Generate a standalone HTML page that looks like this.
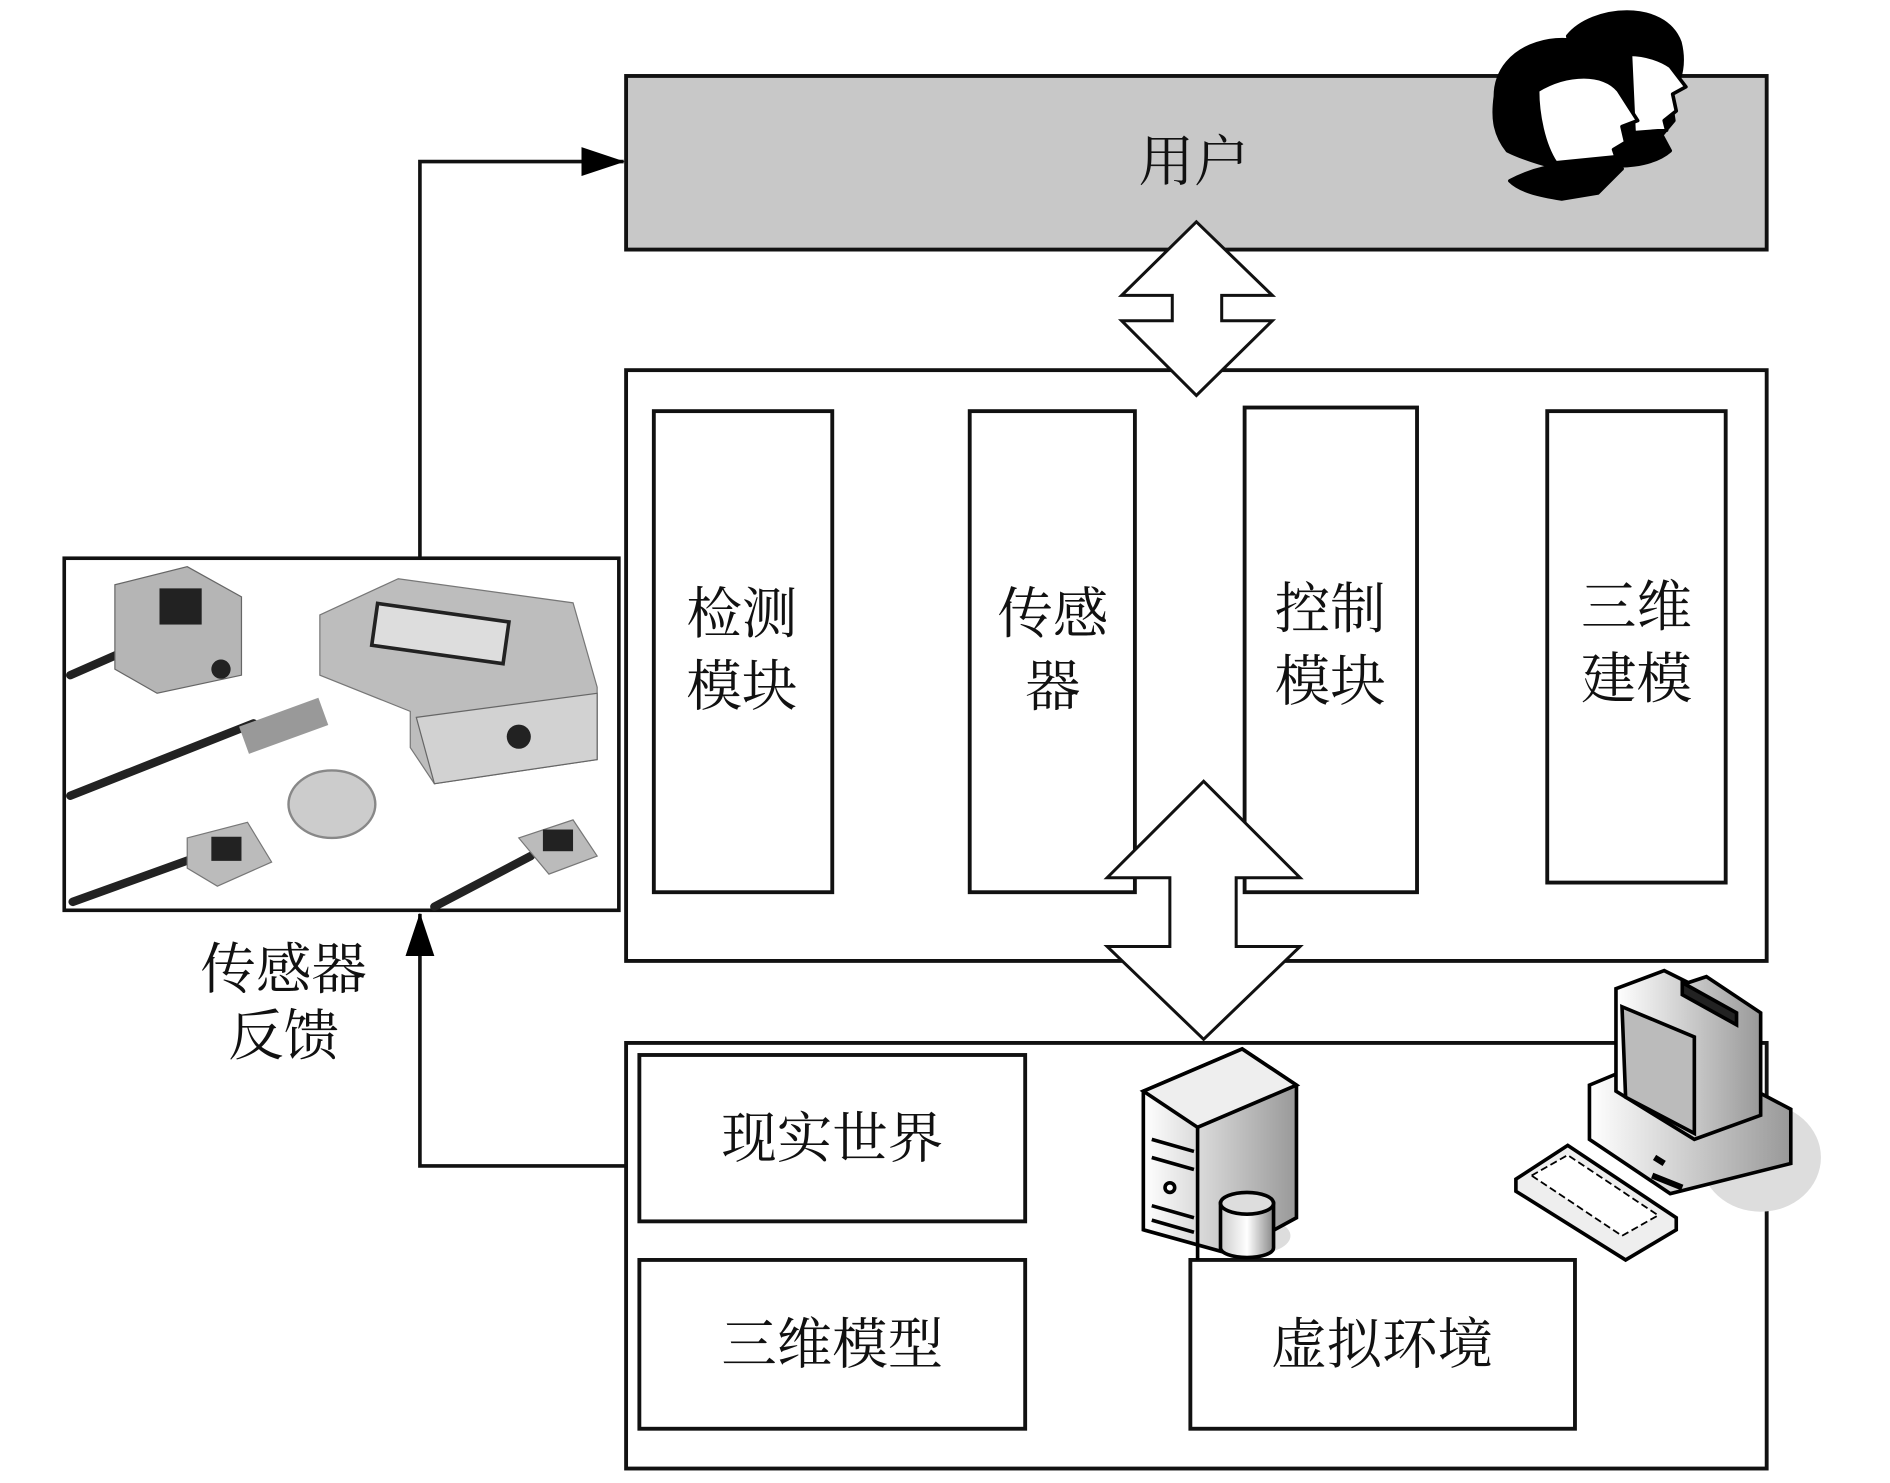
<!DOCTYPE html>
<html><head><meta charset="utf-8"><style>
html,body{margin:0;padding:0;background:#fff;}
svg{display:block}
text{font-family:"Liberation Serif","Noto Serif CJK SC","Noto Sans CJK SC",serif;fill:#111}
</style></head><body>
<svg width="1890" height="1483" viewBox="0 0 1567 1230" xmlns="http://www.w3.org/2000/svg">
<defs>
<marker id="ah" markerWidth="36" markerHeight="24" refX="35" refY="12" orient="auto" markerUnits="userSpaceOnUse">
<path d="M0,0 L36,12 L0,24 z" fill="#000"/></marker>
<linearGradient id="g1" x1="0" x2="1"><stop offset="0" stop-color="#fff"/><stop offset="1" stop-color="#999"/></linearGradient>
<linearGradient id="g2" x1="0" x2="1"><stop offset="0" stop-color="#ccc"/><stop offset="0.5" stop-color="#fff"/><stop offset="1" stop-color="#888"/></linearGradient>
</defs>
<g stroke="#111" stroke-width="3.2" fill="none">
<rect x="519" y="63" width="946" height="144" fill="#c8c8c8"/>
<rect x="519" y="307" width="946" height="490" fill="#fff"/>
<rect x="542" y="341" width="148" height="399"/>
<rect x="804" y="341" width="137" height="399"/>
<rect x="1032" y="338" width="143" height="402"/>
<rect x="1283" y="341" width="148" height="391"/>
<rect x="519" y="865" width="946" height="353" fill="#fff"/>
<rect x="530" y="875" width="320" height="138"/>
<rect x="530" y="1045" width="320" height="140"/>
<rect x="987" y="1045" width="319" height="140"/>
<path d="M992,184 L930,245 L972,245 L972,266 L930,266 L992,328 L1055,266 L1013,266 L1013,245 L1055,245 Z" fill="#fff" stroke-width="2.5"/>
<path d="M998,648 L918,728 L970,728 L970,785 L918,785 L998,862 L1078,785 L1025,785 L1025,728 L1078,728 Z" fill="#fff" stroke-width="2.5"/>
<path d="M348,463 L348,134 L517,134" stroke-width="3" marker-end="url(#ah)"/>
<path d="M519,967 L348,967 L348,758" stroke-width="3" marker-end="url(#ah)"/>
</g>
<!-- photo -->
<g>
<rect x="53" y="463" width="460" height="292" fill="#fff" stroke="#111" stroke-width="3"/>
<g stroke="#222" stroke-width="7" fill="none" stroke-linecap="round">
<path d="M58,560 L115,535"/><path d="M58,660 L210,600"/>
<path d="M60,748 L160,712"/><path d="M360,752 L440,710"/>
</g>
<rect x="200" y="590" width="70" height="24" fill="#999" transform="rotate(-20 235 602)"/>
<path d="M95,485 L155,470 L200,495 L200,560 L130,575 L95,555 Z" fill="#b5b5b5" stroke="#666"/>
<rect x="132" y="488" width="35" height="30" fill="#222"/>
<circle cx="183" cy="555" r="8" fill="#222"/>
<path d="M265,510 L330,480 L475,500 L495,570 L495,630 L360,650 L340,620 L340,590 L265,560 Z" fill="#bdbdbd" stroke="#777"/>
<path d="M345,595 L495,575 L495,630 L360,650 Z" fill="#d2d2d2" stroke="#666"/>
<rect x="310" y="508" width="110" height="35" fill="#ddd" stroke="#222" stroke-width="3" transform="rotate(8 365 525)"/>
<circle cx="430" cy="611" r="10" fill="#222"/>
<ellipse cx="275" cy="667" rx="36" ry="28" fill="#ccc" stroke="#888" stroke-width="2"/>
<path d="M155,695 L205,682 L225,715 L180,735 L155,720 Z" fill="#bbb" stroke="#777"/>
<rect x="175" y="694" width="25" height="20" fill="#222"/>
<path d="M430,695 L475,680 L495,710 L455,725 Z" fill="#bbb" stroke="#777"/>
<rect x="450" y="688" width="25" height="18" fill="#222"/>
</g>
<!-- people icon -->
<g stroke="#000" stroke-width="3" stroke-linejoin="round">
<path d="M1300,30 C1320,5 1380,0 1393,35 C1398,55 1392,70 1385,80 L1388,100 L1378,112 L1385,125 C1370,138 1340,140 1325,135 Z" fill="#000"/>
<path d="M1352,45 C1365,45 1378,50 1385,55 L1398,72 L1387,78 L1390,92 L1380,100 L1382,108 L1355,110 Z" fill="#fff"/>
<path d="M1240,80 C1240,35 1300,20 1335,45 C1350,60 1345,85 1340,100 L1345,120 L1335,130 L1345,140 C1320,150 1270,135 1250,125 C1238,110 1238,95 1240,80 Z" fill="#000"/>
<path d="M1275,75 C1300,60 1330,60 1342,75 L1358,100 L1345,105 L1348,118 L1338,124 L1340,130 L1290,135 C1280,120 1275,95 1275,75 Z" fill="#fff"/>
<path d="M1252,150 C1280,135 1315,132 1345,140 L1325,160 L1295,165 C1275,162 1260,158 1252,150 Z" fill="#000"/>
</g>
<!-- server -->
<g stroke="#000" stroke-width="3">
<ellipse cx="1040" cy="1025" rx="30" ry="15" fill="#ddd" stroke="none"/>
<path d="M948,905 L1030,870 L1075,900 L1075,1010 L1020,1040 L948,1020 Z" fill="url(#g1)"/>
<path d="M948,905 L1030,870 L1075,900 L993,935 Z" fill="#eee"/>
<path d="M993,935 L993,1045" fill="none"/>
<path d="M955,945 L990,955 M955,960 L990,970 M955,1000 L990,1010 M955,1012 L990,1022" fill="none"/>
<circle cx="970" cy="985" r="4" fill="#fff"/>
<path d="M1012,998 L1012,1035 A22,8 0 0 0 1056,1035 L1056,998 Z" fill="url(#g2)"/>
<ellipse cx="1034" cy="998" rx="22" ry="9" fill="#ddd"/>
</g>
<!-- computer -->
<g stroke="#000" stroke-width="3">
<ellipse cx="1460" cy="960" rx="50" ry="45" fill="#ddd" stroke="none"/>
<path d="M1318,900 L1390,870 L1485,920 L1485,965 L1385,990 L1318,945 Z" fill="url(#g1)"/>
<path d="M1340,820 L1380,805 L1400,815 L1415,810 L1460,840 L1460,925 L1405,945 L1340,905 Z" fill="url(#g1)"/>
<path d="M1345,835 L1405,860 L1405,940 L1348,910 Z" fill="#bbb"/>
<path d="M1395,815 L1440,840 L1440,850 L1395,825 Z" fill="#222"/>
<path d="M1257,978 L1300,950 L1390,1010 L1390,1020 L1348,1045 L1257,988 Z" fill="#eee"/>
<path d="M1270,975 L1300,958 L1375,1008 L1345,1025 Z" fill="#fff" stroke-width="1.5" stroke-dasharray="6 3"/>
<path d="M1372,960 L1380,965 M1370,975 L1395,985" stroke-width="5"/>
</g>
<!-- texts -->
<g font-size="46">
<text x="990" y="150" text-anchor="middle">用户</text>
<text x="615" y="525" text-anchor="middle">检测</text>
<text x="615" y="585" text-anchor="middle">模块</text>
<text x="873" y="525" text-anchor="middle">传感</text>
<text x="873" y="585" text-anchor="middle">器</text>
<text x="1103" y="521" text-anchor="middle">控制</text>
<text x="1103" y="581" text-anchor="middle">模块</text>
<text x="1357" y="519" text-anchor="middle">三维</text>
<text x="1357" y="579" text-anchor="middle">建模</text>
<text x="690" y="960" text-anchor="middle">现实世界</text>
<text x="690" y="1131" text-anchor="middle">三维模型</text>
<text x="1146" y="1131" text-anchor="middle">虚拟环境</text>
<text x="235" y="820" text-anchor="middle">传感器</text>
<text x="235" y="875" text-anchor="middle">反馈</text>
</g>
</svg>
</body></html>
